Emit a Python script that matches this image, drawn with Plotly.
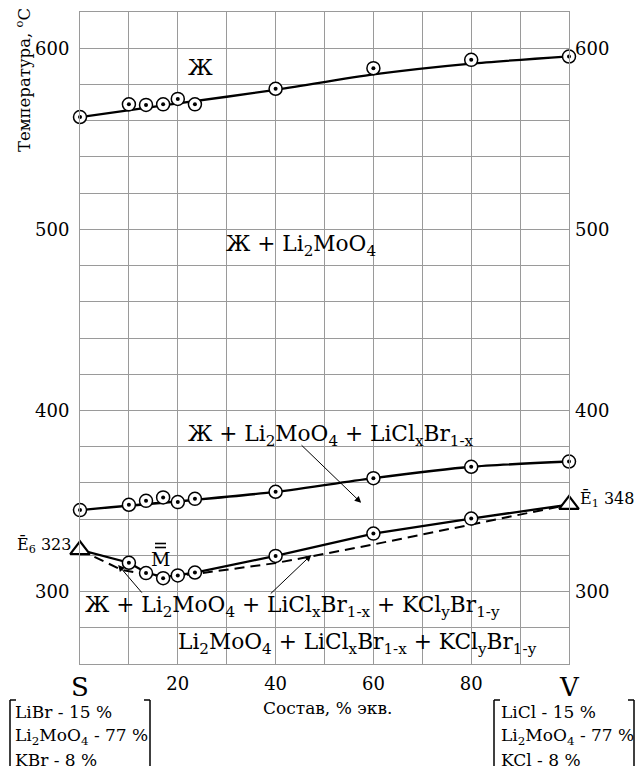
import plotly.graph_objects as go

# ---------------- data ----------------
x_pts = [0, 10, 13.5, 17, 20, 23.5, 40, 60, 80, 100]
liquidus = [562, 569, 568.7, 569, 572, 569, 577.6, 589, 593.6, 595.4]
second = [345, 347.9, 350.1, 352, 349.4, 351.2, 355.1, 362.6, 368.9, 371.8]

liq_line_x = [0, 20, 40, 60, 80, 100]
liq_line_y = [562, 569.5, 577, 585.5, 591.5, 595.5]
sec_line_x = [0, 40, 60, 80, 100]
sec_line_y = [345, 355, 362.6, 368.9, 371.8]

low_x = [10, 13.5, 17, 20, 23.5, 40, 60, 80]
low_y = [315.9, 310.2, 307.4, 308.9, 310.5, 319.7, 332, 340.3]
low_line_x = [0, 10, 13.5, 17, 20, 23.5, 40, 60, 80, 100]
low_line_y = [323, 315.9, 310.5, 308, 309, 310.5, 319.7, 332, 340.3, 348]

dash_x = [0, 8.5, 12.5, 17, 23, 40, 60, 80, 100]
dash_y = [323, 312, 310, 308.5, 309.5, 315.7, 326, 337, 348]

eut_x = [0, 100]
eut_y = [323, 348]
eut_names = ["Ē<sub>6</sub> 323", "Ē<sub>1</sub> 348"]

y_ticks = [300, 400, 500, 600]
x_ticks = [20, 40, 60, 80]
x_tick_text = ["20", "40", "60", "80"]

box_left = ["LiBr - 15 %", "Li<sub>2</sub>MoO<sub>4</sub> - 77 %", "KBr - 8 %"]
box_right = ["LiCl - 15 %", "Li<sub>2</sub>MoO<sub>4</sub> - 77 %", "KCl - 8 %"]

FONT = "DejaVu Serif"
W, H = 636, 766
L, R, T, B = 80, 67, 12, 102
PW, PH = W - L - R, H - T - B


def px(xp):
    return (xp - L) / PW


def py(yp):
    return (H - B - yp) / PH


fig = go.Figure()

line_style = dict(color="black", width=2.3)

fig.add_trace(go.Scatter(x=liq_line_x, y=liq_line_y, mode="lines", line=line_style,
                         line_shape="spline", line_smoothing=0.6, hoverinfo="skip"))
fig.add_trace(go.Scatter(x=sec_line_x, y=sec_line_y, mode="lines", line=line_style,
                         line_shape="spline", line_smoothing=0.6, hoverinfo="skip"))
fig.add_trace(go.Scatter(x=low_line_x, y=low_line_y, mode="lines", line=line_style,
                         hoverinfo="skip"))
fig.add_trace(go.Scatter(x=dash_x, y=dash_y, mode="lines",
                         line=dict(color="black", width=2, dash="10px,6px"),
                         hoverinfo="skip"))

for xs, ys in [(x_pts, liquidus), (x_pts, second), (low_x, low_y)]:
    fig.add_trace(go.Scatter(x=xs, y=ys, mode="markers", cliponaxis=False,
                             marker=dict(symbol="circle", size=13, color="white",
                                         line=dict(color="black", width=1.5))))
    fig.add_trace(go.Scatter(x=xs, y=ys, mode="markers", cliponaxis=False,
                             marker=dict(symbol="circle", size=4, color="black",
                                         line=dict(width=0))))

fig.add_trace(go.Scatter(x=eut_x, y=eut_y, mode="markers", cliponaxis=False,
                         marker=dict(symbol="triangle-up", size=17, color="white",
                                     line=dict(color="black", width=2.2))))

fig.add_trace(go.Scatter(x=[None], y=[None], yaxis="y2", showlegend=False))

grid_col = "#9a9a9a"
fig.update_layout(
    width=W, height=H,
    margin=dict(l=L, r=R, t=T, b=B, autoexpand=False),
    paper_bgcolor="white", plot_bgcolor="white",
    showlegend=False,
    font=dict(family=FONT, color="black", size=18),
    xaxis=dict(range=[0, 100], tickvals=x_ticks, ticktext=x_tick_text, automargin=False,
               showgrid=True, gridcolor=grid_col, gridwidth=1,
               minor=dict(dtick=10, tick0=0, showgrid=True, gridcolor=grid_col, gridwidth=1),
               showline=True, linecolor=grid_col, linewidth=1, mirror=True,
               zeroline=False, ticks="", ticklabelstandoff=3,
               tickfont=dict(size=18, family=FONT)),
    yaxis=dict(range=[260, 620], tickvals=y_ticks, automargin=False,
               showgrid=True, gridcolor=grid_col, gridwidth=1,
               minor=dict(dtick=20, tick0=260, showgrid=True, gridcolor=grid_col, gridwidth=1),
               showline=True, linecolor=grid_col, linewidth=1, mirror=True,
               zeroline=False, ticks="", ticklabelstandoff=6,
               tickfont=dict(size=18, family=FONT)),
    yaxis2=dict(range=[260, 620], tickvals=y_ticks, overlaying="y", side="right",
                automargin=False,
                showgrid=False, zeroline=False, showline=False, ticks="",
                ticklabelstandoff=5, tickfont=dict(size=18, family=FONT)),
)

ann = []


def text(x, y, t, size=21.7, xref="x", yref="y", xanchor="center", yanchor="middle", **kw):
    ann.append(dict(x=x, y=y, xref=xref, yref=yref, text=t, showarrow=False,
                    xanchor=xanchor, yanchor=yanchor,
                    font=dict(family=FONT, size=size, color="black"), **kw))


# region labels
text(24.6, 589.3, "Ж", size=22)
text(45.2, 491, "Ж + Li<sub>2</sub>MoO<sub>4</sub>")
text(51.4, 386, "Ж + Li<sub>2</sub>MoO<sub>4</sub> + LiCl<sub>x</sub>Br<sub>1-x</sub>")
text(43.5, 292, "Ж + Li<sub>2</sub>MoO<sub>4</sub> + LiCl<sub>x</sub>Br<sub>1-x</sub> + KCl<sub>y</sub>Br<sub>1-y</sub>")
text(56.8, 271.5, "Li<sub>2</sub>MoO<sub>4</sub> + LiCl<sub>x</sub>Br<sub>1-x</sub> + KCl<sub>y</sub>Br<sub>1-y</sub>")

# eutectics
text(eut_x[0], eut_y[0], eut_names[0], size=16, xanchor="right", xshift=-7, yshift=5)
text(eut_x[1], eut_y[1], eut_names[1], size=16, xanchor="left", xshift=9, yshift=6)

# M point
text(16.4, 318, "M", size=19)

# arrows
for (hx, hy, tx, ty) in [(57.5, 349, 45.0, 381.6),
                         (7.8, 314.7, 12.9, 298.6),
                         (47.3, 320.2, 38.7, 298.1)]:
    ann.append(dict(x=hx, y=hy, ax=tx, ay=ty, xref="x", yref="y", axref="x", ayref="y",
                    text="", showarrow=True, arrowhead=2, arrowsize=1.3, arrowwidth=1,
                    arrowcolor="black"))

# y title
text(px(23), py(80), "Температура, <sup>o</sup>C", size=16.5, xref="paper", yref="paper",
     textangle=-90)

# S and V
text(0, py(687), "S", size=26, yref="paper")
text(100, py(687), "V", size=26, yref="paper")

# x title
text(px(327), py(708), "Состав, % экв.", size=17, xref="paper", yref="paper")

# boxes
for i, (a, b) in enumerate(zip(box_left, box_right)):
    yy = py(712 + 24 * i)
    text(px(13), yy, a, size=17, xref="paper", yref="paper", xanchor="left")
    text(px(499), yy, b, size=17, xref="paper", yref="paper", xanchor="left")

fig.update_layout(annotations=ann)

shapes = []


def seg(x0, y0, x1, y1, w=1.5):
    shapes.append(dict(type="line", xref="paper", yref="paper",
                       x0=px(x0), y0=py(y0), x1=px(x1), y1=py(y1),
                       line=dict(color="black", width=w)))


# brackets
for lx, rx in [(10, 150), (494, 634)]:
    seg(lx, 700, lx, 770)
    seg(lx, 700, lx + 6, 700)
    seg(rx, 700, rx, 770)
    seg(rx, 700, rx - 6, 700)

# double bar over M
for yb in [543.5, 547.5]:
    seg(155, yb, 166, yb, 1.6)

fig.update_layout(shapes=shapes)

fig.write_html("out.html", config={"displayModeBar": False},
               post_script="document.body.style.margin='0';")
